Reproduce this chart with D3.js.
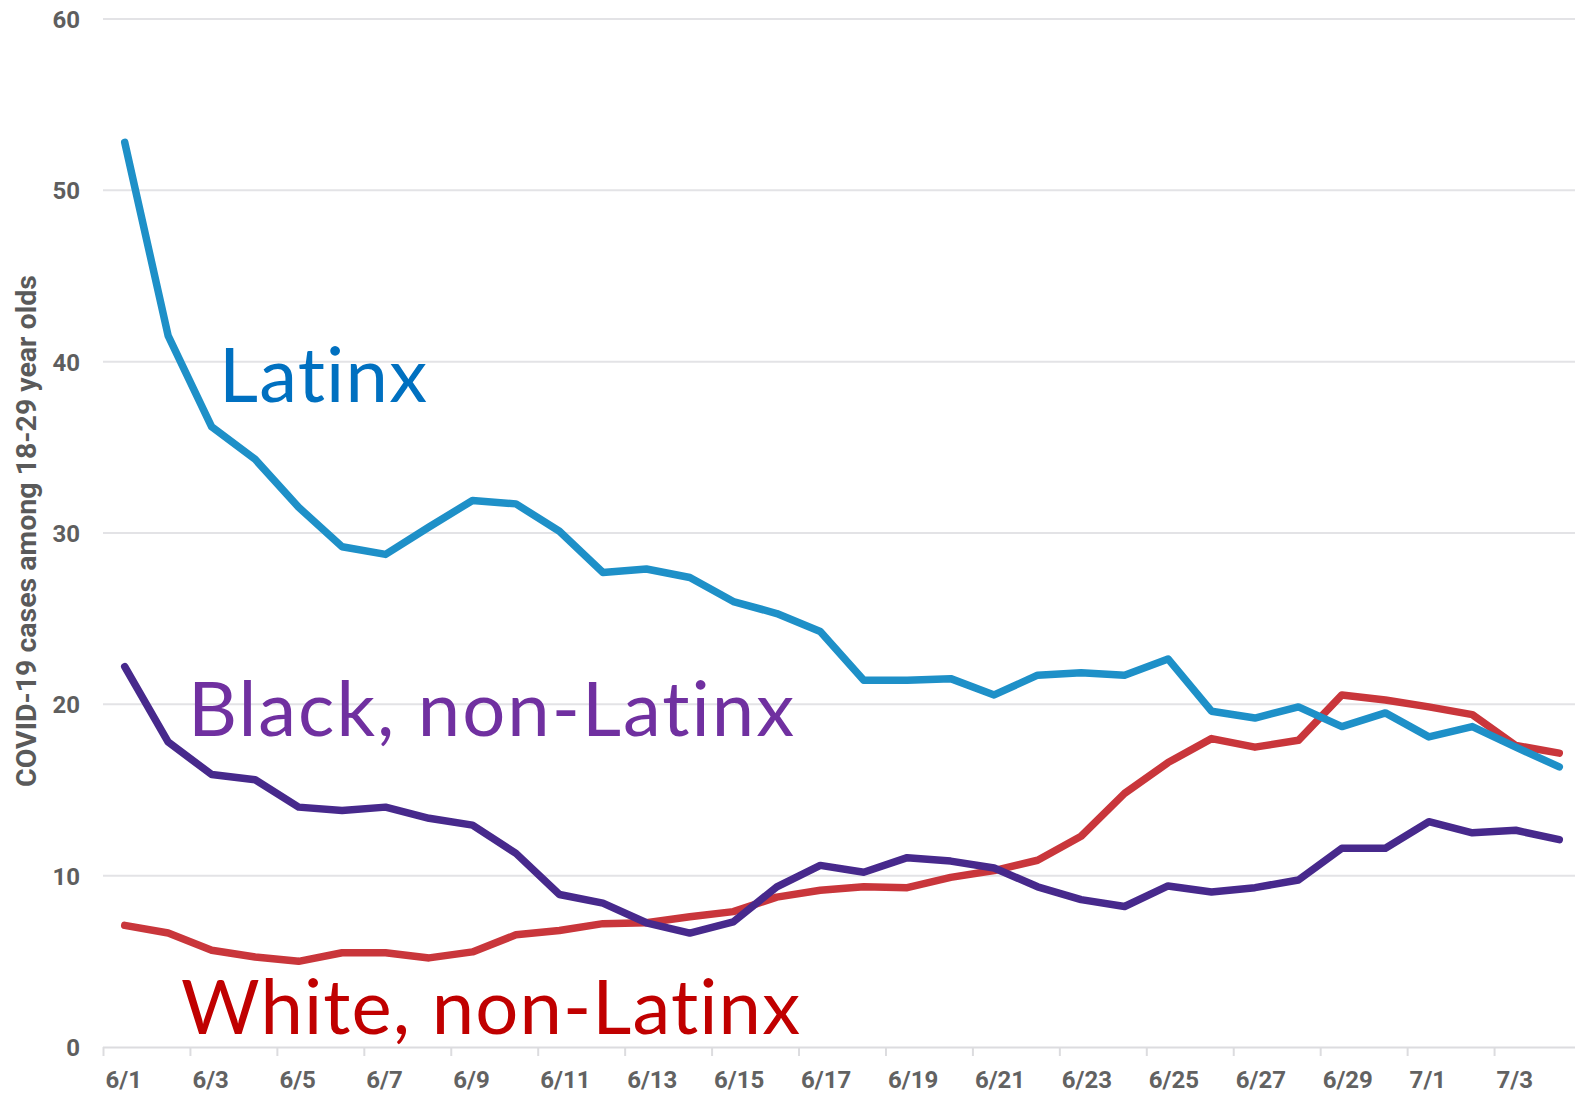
<!DOCTYPE html>
<html>
<head>
<meta charset="utf-8">
<script src="https://cdn.jsdelivr.net/npm/d3@7"></script>
<style>
  html, body { margin: 0; padding: 0; background: #fff; }
  svg { display: block; }
  text { font-variant-ligatures: none; font-feature-settings: "liga" 0, "clig" 0; }
</style>
</head>
<body>
<svg id="chart" width="1575" height="1093"></svg>
<script>
const dates = ["6/1","6/2","6/3","6/4","6/5","6/6","6/7","6/8","6/9","6/10","6/11","6/12","6/13","6/14","6/15","6/16","6/17","6/18","6/19","6/20","6/21","6/22","6/23","6/24","6/25","6/26","6/27","6/28","6/29","6/30","7/1","7/2","7/3","7/4"];
const latinx = [52.8,41.5,36.2,34.3,31.5,29.2,28.75,30.35,31.9,31.7,30.1,27.7,27.9,27.4,26.0,25.3,24.25,21.4,21.4,21.5,20.55,21.7,21.85,21.7,22.65,19.6,19.2,19.85,18.7,19.5,18.1,18.7,17.5,16.35];
const black = [22.2,17.8,15.9,15.6,14.0,13.8,14.0,13.35,12.95,11.3,8.9,8.4,7.25,6.65,7.3,9.35,10.6,10.2,11.05,10.85,10.45,9.35,8.6,8.2,9.4,9.05,9.3,9.75,11.6,11.6,13.15,12.5,12.65,12.1];
const white = [7.1,6.65,5.65,5.25,5.0,5.5,5.5,5.2,5.55,6.55,6.8,7.2,7.25,7.6,7.9,8.75,9.15,9.35,9.3,9.9,10.3,10.9,12.3,14.8,16.6,18.0,17.5,17.9,20.55,20.25,19.85,19.4,17.6,17.15];
const yTicks = [0,10,20,30,40,50,60];
const xTickLabels = ["6/1","6/3","6/5","6/7","6/9","6/11","6/13","6/15","6/17","6/19","6/21","6/23","6/25","6/27","6/29","7/1","7/3"];
const yTitle = "COVID-19 cases among 18-29 year olds";
const seriesNames = ["Latinx","Black, non-Latinx","White, non-Latinx"];

const svg = d3.select("#chart");
const left = 103, right = 1575;
const x = d3.scaleLinear().domain([0, dates.length]).range([103, 1581]);
const y = d3.scaleLinear().domain([0, 60]).range([1047, 19]);

// gridlines
svg.append("g").selectAll("line").data(yTicks.filter(d => d > 0)).join("line")
  .attr("x1", left).attr("x2", right)
  .attr("y1", d => y(d)).attr("y2", d => y(d))
  .attr("stroke", "#e3e3e6").attr("stroke-width", 2);

// y axis labels
const yAxis = d3.axisLeft(y).tickValues(yTicks).tickSize(0).tickPadding(0).tickFormat(d3.format("d"));
const gy = svg.append("g").attr("transform", `translate(80,0)`).call(yAxis);
gy.select(".domain").remove();
gy.selectAll("text").attr("font-family", "Roboto").attr("font-weight", 700)
  .attr("font-size", 24).attr("fill", "#5e5e5e").attr("dy", "0.35em");

// x axis
const tickIdx = xTickLabels.map(l => dates.indexOf(l));
const xAxis = d3.axisBottom(x).tickValues(tickIdx).tickSize(9).tickPadding(15)
  .tickFormat(i => dates[i]);
const gx = svg.append("g").attr("transform", `translate(0,${y(0)})`).call(xAxis);
gx.select(".domain").attr("d", `M${left},0.5H${right}`).attr("stroke", "#dcdcdf").attr("stroke-width", 2);
gx.selectAll(".tick line").attr("stroke", "#dcdcdf").attr("stroke-width", 2);
gx.selectAll(".tick text").attr("font-family", "Roboto").attr("font-weight", 700)
  .attr("font-size", 24).attr("fill", "#626262").attr("text-anchor", "start").attr("dx", 2);

// y title
const title = svg.append("text")
  .attr("transform", "translate(36,531) rotate(-90)")
  .attr("text-anchor", "middle")
  .attr("font-family", "Roboto").attr("font-weight", 700)
  .attr("font-size", 22).attr("fill", "#5a5a5a")
  .text(yTitle);
const tl = title.node().getComputedTextLength();
title.attr("font-size", 22 * 512 / tl);

// lines
const line = d3.line().x((d, i) => x(i + 0.5)).y(d => y(d));
const series = [
  { values: white, color: "#c9363b" },
  { values: black, color: "#47298c" },
  { values: latinx, color: "#1e90c8" }
];
svg.append("g").selectAll("path").data(series).join("path")
  .attr("d", d => line(d.values))
  .attr("fill", "none").attr("stroke", d => d.color)
  .attr("stroke-width", 7.5).attr("stroke-linejoin", "round").attr("stroke-linecap", "round");

// annotation labels
const labels = [
  { text: seriesNames[0], x: 219, y: 402, w: 208, color: "#0070c0" },
  { text: seriesNames[1], x: 188, y: 736, w: 606, color: "#7030a0" },
  { text: seriesNames[2], x: 181, y: 1034, w: 619, color: "#c00000" }
];
labels.forEach(l => {
  const t = svg.append("text")
    .attr("x", l.x).attr("y", l.y)
    .attr("font-family", "Lato").attr("font-weight", 400)
    .attr("font-size", 76).attr("fill", l.color)
    .style("font-variant-ligatures", "none")
    .text(l.text);
  const w = t.node().getComputedTextLength();
  t.attr("textLength", l.w).attr("lengthAdjust", w < l.w ? "spacing" : "spacingAndGlyphs");
});
</script>
</body>
</html>
